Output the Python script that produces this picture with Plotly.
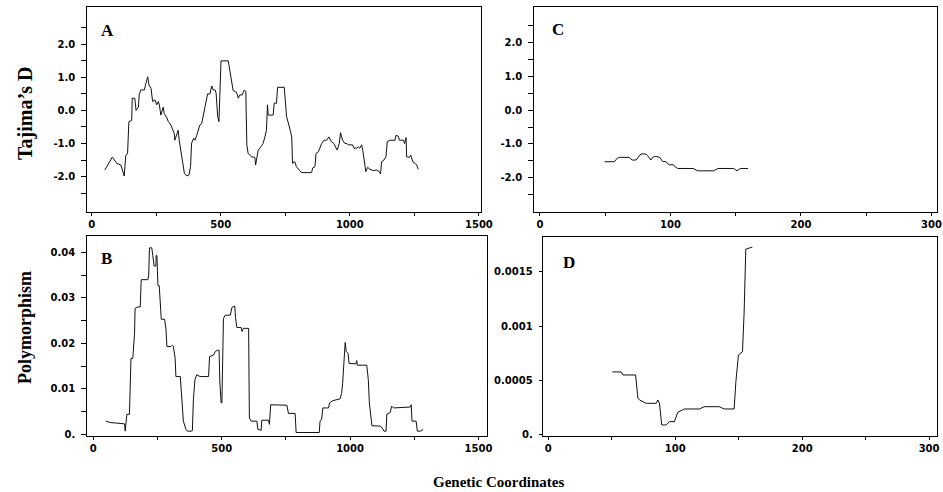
import plotly.graph_objects as go

# ---------------- data ----------------
a_x = [51, 80, 97, 113, 126, 132, 139, 144, 155, 157,
       167, 172, 181, 184, 190, 204, 210, 217, 222, 230,
       236, 245, 252, 258, 262, 268, 277, 281, 290, 297,
       307, 312, 320, 322, 329, 335, 339, 346, 351, 359,
       368, 377, 383, 387, 395, 400, 407, 413, 419, 426,
       432, 439, 449, 458, 465, 471, 478, 482, 488, 493,
       501, 529, 535, 542, 548, 561, 568, 574, 583, 591,
       597, 601, 606, 619, 632, 635, 641, 645, 655, 664,
       671, 677, 681, 684, 703, 707, 716, 720, 746, 749,
       755, 766, 775, 778, 787, 793, 804, 813, 852, 856,
       865, 869, 878, 884, 891, 900, 910, 919, 929, 938,
       946, 951, 959, 964, 972, 981, 988, 994, 1011, 1016,
       1027, 1033, 1039, 1046, 1050, 1059, 1062, 1069, 1078, 1091,
       1104, 1114, 1119, 1123, 1132, 1140, 1145, 1155, 1175, 1179,
       1188, 1192, 1208, 1212, 1218, 1220, 1231, 1236, 1244, 1253,
       1259, 1265]
a_y = [-1.80, -1.41, -1.60, -1.65, -1.98, -1.37, -1.30, -0.34, -0.30, 0.37,
       0.37, 0.00, 0.10, 0.47, 0.62, 0.62, 0.82, 1.02, 0.77, 0.67,
       0.27, 0.32, 0.17, 0.27, 0.17, -0.14, 0.10, -0.10, -0.20, -0.34,
       -0.44, -0.55, -0.70, -0.90, -0.70, -0.60, -0.90, -1.30, -1.60, -1.90,
       -1.98, -1.95, -1.70, -0.99, -0.84, -0.90, -0.75, -0.60, -0.44, -0.40,
       -0.14, 0.10, 0.50, 0.50, 0.74, 0.62, 0.62, 0.52, -0.18, -0.34,
       1.50, 1.50, 1.20, 0.90, 0.60, 0.55, 0.37, 0.47, 0.47, 0.62,
       0.57, -1.04, -1.30, -1.40, -1.42, -1.65, -1.40, -1.20, -1.10, -1.00,
       -0.80, -0.60, 0.17, -0.14, -0.14, 0.22, 0.22, 0.70, 0.70, 0.32,
       -0.19, -0.50, -0.80, -1.60, -1.55, -1.70, -1.80, -1.88, -1.88, -1.74,
       -1.70, -1.30, -1.25, -1.10, -1.00, -0.90, -0.90, -0.80, -0.95, -1.00,
       -1.10, -1.20, -1.00, -0.67, -0.90, -1.00, -1.00, -1.04, -1.04, -1.14,
       -1.14, -1.10, -1.14, -1.04, -1.20, -1.60, -1.85, -1.72, -1.78, -1.82,
       -1.80, -1.85, -1.92, -1.55, -1.50, -1.40, -0.94, -0.90, -0.90, -0.75,
       -0.78, -0.90, -0.90, -1.00, -0.82, -1.40, -1.42, -1.35, -1.55, -1.60,
       -1.65, -1.78]

b_x = [49, 66, 86, 122, 124.5, 131, 141, 147, 154, 161,
       163, 174, 183, 187, 213, 216, 219, 228, 232, 237,
       244, 245, 248, 252, 257, 265, 278, 283, 287, 303,
       308, 312, 319, 322, 339, 345, 351, 361, 367, 381,
       386, 390, 396, 403, 416, 449, 453, 468, 475, 485,
       490, 493, 498, 501, 507, 514, 534, 540, 551, 554,
       559, 576, 579, 585, 605, 608, 615, 637, 641, 654,
       656, 682, 686, 691, 754, 760, 786, 790, 880, 883,
       889, 894, 916, 920, 933, 961, 967, 971, 977, 981,
       985, 992, 996, 1023, 1026, 1028, 1065, 1071, 1075, 1081,
       1085, 1117, 1124, 1132, 1140, 1143, 1156, 1162, 1169, 1234,
       1238, 1241, 1257, 1262, 1275, 1285]
b_y = [0.0029, 0.0026, 0.0025, 0.0023, 0.0007, 0.0044, 0.0044, 0.0167, 0.0167, 0.0222,
       0.0277, 0.0280, 0.0280, 0.0340, 0.0340, 0.0350, 0.0410, 0.0410, 0.0393, 0.0370,
       0.0370, 0.0393, 0.0393, 0.0327, 0.0327, 0.0253, 0.0253, 0.0233, 0.0193, 0.0193,
       0.0196, 0.0194, 0.0167, 0.0127, 0.0127, 0.0076, 0.0029, 0.0011, 0.0007, 0.0007,
       0.0008, 0.0076, 0.0120, 0.0131, 0.0127, 0.0127, 0.0171, 0.0174, 0.0182, 0.0185,
       0.0185, 0.0113, 0.0069, 0.0069, 0.0255, 0.0262, 0.0262, 0.0279, 0.0282, 0.0257,
       0.0235, 0.0235, 0.0226, 0.0233, 0.0233, 0.0036, 0.0029, 0.0029, 0.0011, 0.0009,
       0.0031, 0.0031, 0.0022, 0.0065, 0.0064, 0.0046, 0.0046, 0.0004, 0.0004, 0.0029,
       0.0032, 0.0058, 0.0058, 0.0069, 0.0074, 0.0078, 0.0090, 0.0112, 0.0178, 0.0202,
       0.0182, 0.0178, 0.0156, 0.0155, 0.0162, 0.0152, 0.0152, 0.0120, 0.0069, 0.0029,
       0.0019, 0.0018, 0.0015, 0.0007, 0.0007, 0.0044, 0.0048, 0.0062, 0.0058, 0.0060,
       0.0065, 0.0029, 0.0029, 0.0007, 0.0007, 0.0011]

c_x = [49.5, 57, 59.4, 61, 68.5, 70.6, 73.6, 75, 77.4, 81.2,
       82.5, 85, 86.3, 88.3, 91.8, 94, 96.5, 99, 102, 105.4,
       117.3, 121, 133, 136.5, 148.5, 151, 153.6, 159.4]
c_y = [-1.53, -1.53, -1.42, -1.40, -1.40, -1.48, -1.48, -1.42, -1.30, -1.30,
       -1.35, -1.48, -1.40, -1.37, -1.40, -1.52, -1.53, -1.62, -1.62, -1.73,
       -1.73, -1.80, -1.80, -1.73, -1.73, -1.80, -1.73, -1.73]

d_x = [50.5, 57.5, 58.8, 68.8, 70.6, 71.9, 77.2, 85, 86.3, 87.6,
       89.4, 92.9, 95.5, 99.4, 102, 107.2, 119, 122.9, 134.7, 138.6,
       146.4, 147.8, 149.8, 153, 154.3, 155.6, 160.8]
d_y = [0.000576, 0.000576, 0.000548, 0.000548, 0.000333, 0.000317, 0.000286, 0.000286, 0.000317, 0.000286,
       0.000086, 0.000086, 0.000117, 0.000117, 0.000203, 0.000234, 0.000234, 0.000255, 0.000255, 0.000234,
       0.000234, 0.000486, 0.000733, 0.000763, 0.00113, 0.00171, 0.00173]

tajima_ticks = [2.0, 1.0, 0.0, -1.0, -2.0]
tajima_labels = ["2.0", "1.0", "0.0", "-1.0", "-2.0"]
tajima_minor = [2.5, 1.5, 0.5, -0.5, -1.5, -2.5]
polyA_ticks = [0.04, 0.03, 0.02, 0.01, 0.0]
polyA_labels = ["0.04", "0.03", "0.02", "0.01", "0."]
polyA_minor = [0.035, 0.025, 0.015, 0.005]
polyB_ticks = [0.0015, 0.001, 0.0005, 0.0]
polyB_labels = ["0.0015", "0.001", "0.0005", "0."]
coordA_ticks = [0, 500, 1000, 1500]
coordA_labels = ["0", "500", "1000", "1500"]
coordA_minor = [250, 750, 1250]
coordC_ticks = [0, 100, 200, 300]
coordC_labels = ["0", "100", "200", "300"]
coordC_minor = [50, 150, 250]
panel_letters = ["A", "B", "C", "D"]

# ---------------- figure ----------------
W, H = 943, 492
def px(x0, x1):
    return [x0 / W, x1 / W]
def py(top, bottom):
    return [1 - bottom / H, 1 - top / H]

line = dict(color="#111111", width=1)
fig = go.Figure()
fig.add_trace(go.Scatter(x=a_x, y=a_y, mode="lines", line=line, xaxis="x", yaxis="y"))
fig.add_trace(go.Scatter(x=b_x, y=b_y, mode="lines", line=line, xaxis="x2", yaxis="y2"))
fig.add_trace(go.Scatter(x=c_x, y=c_y, mode="lines", line=line, xaxis="x3", yaxis="y3"))
fig.add_trace(go.Scatter(x=d_x, y=d_y, mode="lines", line=line, xaxis="x4", yaxis="y4"))

tickfont = dict(family="DejaVu Sans", size=10, color="black", weight="bold")

def xax(domain, rng, ticks, labels, minor, anchor):
    return dict(domain=domain, range=rng, anchor=anchor, tickmode="array",
                tickvals=ticks, ticktext=labels, ticks="outside", ticklen=3,
                tickcolor="black", tickwidth=1, showline=True, mirror=True,
                linecolor="black", linewidth=1, showgrid=False, zeroline=False,
                tickfont=tickfont, automargin=False, fixedrange=True,
                ticklabeloverflow="allow",
                minor=dict(tickmode="array", tickvals=minor, ticks="outside",
                           ticklen=3, tickcolor="black", showgrid=False))

def yax(domain, rng, ticks, labels, minor, anchor, ticklen=5):
    return dict(domain=domain, range=rng, anchor=anchor, tickmode="array",
                tickvals=ticks, ticktext=labels, ticks="outside", ticklen=ticklen,
                tickcolor="black", tickwidth=1, showline=True, mirror=True,
                linecolor="black", linewidth=1, showgrid=False, zeroline=False,
                tickfont=tickfont, automargin=False, fixedrange=True,
                ticklabelstandoff=4, ticklabeloverflow="allow",
                minor=dict(tickmode="array", tickvals=minor, ticks="outside",
                           ticklen=ticklen, tickcolor="black", showgrid=False))

dA = (px(87.3, 480.7), py(7.3, 212.3))
dB = (px(87.3, 487.0), py(236.0, 435.7))
dC = (px(534.3, 936.7), py(7.3, 212.3))
dD = (px(542.7, 936.7), py(237.3, 435.7))

fig.update_layout(
    width=W, height=H, margin=dict(l=0, r=0, t=0, b=0),
    paper_bgcolor="white", plot_bgcolor="white", showlegend=False,
    xaxis=xax(dA[0], [-17, 1507], coordA_ticks, coordA_labels, coordA_minor, "y"),
    yaxis=yax(dA[1], [-3.08, 3.12], tajima_ticks, tajima_labels, tajima_minor, "x"),
    xaxis2=xax(dB[0], [-23, 1533], coordA_ticks, coordA_labels, coordA_minor, "y2"),
    yaxis2=yax(dB[1], [-0.0003, 0.0436], polyA_ticks, polyA_labels, polyA_minor, "x2"),
    xaxis3=xax(dC[0], [-4.3, 304], coordC_ticks, coordC_labels, coordC_minor, "y3"),
    yaxis3=yax(dC[1], [-3.03, 3.05], tajima_ticks, tajima_labels, tajima_minor, "x3"),
    xaxis4=xax(dD[0], [-4.4, 306], coordC_ticks, coordC_labels, coordC_minor, "y4"),
    yaxis4=yax(dD[1], [-0.000013, 0.00182], polyB_ticks, polyB_labels, [], "x4", ticklen=3),
)

serif_bold = dict(family="Liberation Serif", color="black", weight="bold")
letter_pos = [(107, 31), (106, 258), (558, 29), (569, 262)]
for letter, (lx, ly) in zip(panel_letters, letter_pos):
    fig.add_annotation(text=letter, x=lx / W, y=1 - ly / H, xref="paper", yref="paper",
                       showarrow=False, xanchor="center", yanchor="middle",
                       font=dict(size=17, **serif_bold))

fig.add_annotation(text="Tajima’s D", x=25 / W, y=1 - 113 / H, xref="paper", yref="paper",
                   showarrow=False, textangle=-90, xanchor="center", yanchor="middle",
                   font=dict(size=20, **serif_bold))
fig.add_annotation(text="Polymorphism", x=25 / W, y=1 - 328 / H, xref="paper", yref="paper",
                   showarrow=False, textangle=-90, xanchor="center", yanchor="middle",
                   font=dict(size=18, **serif_bold))
fig.add_annotation(text="Genetic Coordinates", x=498 / W, y=1 - 482 / H, xref="paper", yref="paper",
                   showarrow=False, xanchor="center", yanchor="middle",
                   font=dict(size=15, **serif_bold))

fig.write_html("out.html", config={"displayModeBar": False})
